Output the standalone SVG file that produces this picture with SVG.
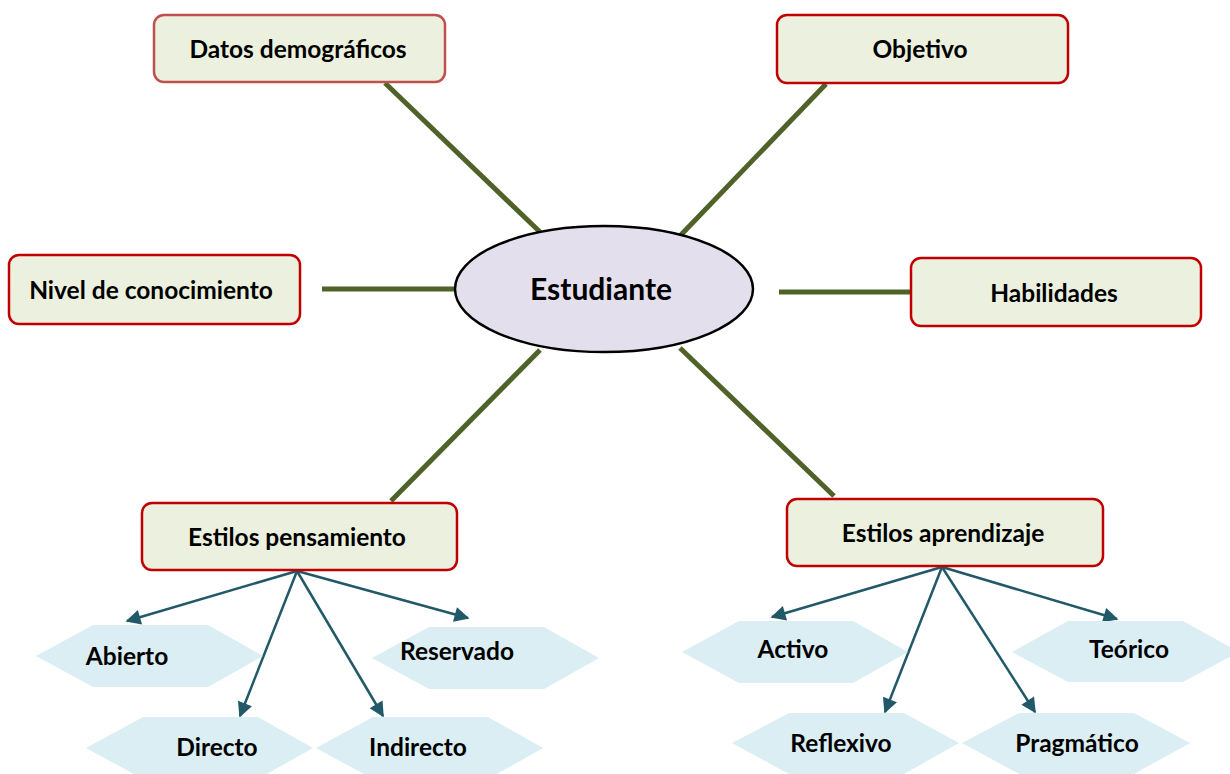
<svg xmlns="http://www.w3.org/2000/svg" width="1230" height="774" viewBox="0 0 1230 774">
<style>
.box{fill:#ebf1de;stroke:#c00000;stroke-width:2.5}
.box2{fill:#ebf1de;stroke:#c0504d;stroke-width:2.5}
.hex{fill:#daeef3}
.t{font-family:Lato,"Open Sans",sans-serif;font-weight:bold;font-size:24.5px;fill:#000;text-anchor:middle;dominant-baseline:central}
.big{font-size:30px}
.g{stroke:#4f6228;stroke-width:5;fill:none}
.a{stroke:#215968;stroke-width:2.5;fill:none;marker-end:url(#ah)}
</style>
<defs>
<marker id="ah" viewBox="0 0 10 10" refX="9" refY="5" markerWidth="7" markerHeight="6" orient="auto" markerUnits="strokeWidth">
<path d="M0,0 L10,5 L0,10 Z" fill="#215968"/>
</marker>
</defs>
<rect width="1230" height="774" fill="#fff"/>
<g id="connectors">
<line class="g" x1="385" y1="83" x2="540" y2="232"/>
<line class="g" x1="826" y1="84" x2="678" y2="238"/>
<line class="g" x1="322" y1="289" x2="455" y2="289"/>
<line class="g" x1="779" y1="292" x2="911" y2="292"/>
<line class="g" x1="540" y1="350" x2="391" y2="501"/>
<line class="g" x1="680" y1="348" x2="834" y2="496"/>
<line class="a" x1="297" y1="571" x2="127" y2="621"/>
<line class="a" x1="297" y1="571" x2="240" y2="716"/>
<line class="a" x1="297" y1="571" x2="383" y2="716"/>
<line class="a" x1="297" y1="571" x2="468" y2="618"/>
<line class="a" x1="942" y1="567" x2="772" y2="617"/>
<line class="a" x1="942" y1="567" x2="885" y2="712"/>
<line class="a" x1="942" y1="567" x2="1035" y2="712"/>
<line class="a" x1="942" y1="567" x2="1117" y2="619"/>
</g>
<g id="estudiante">
<ellipse cx="604" cy="289" rx="149" ry="63" fill="#e4dfec" stroke="#000" stroke-width="2.5"/>
<text class="t big" x="601" y="288">Estudiante</text>
</g>
<g id="datos">
<rect class="box2" x="154" y="15" width="291" height="67" rx="10"/>
<text class="t" x="298" y="48">Datos demográficos</text>
</g>
<g id="objetivo">
<rect class="box" x="777" y="15" width="291" height="68" rx="10"/>
<text class="t" x="920" y="48">Objetivo</text>
</g>
<g id="nivel">
<rect class="box" x="9" y="255" width="291" height="69" rx="10"/>
<text class="t" x="151" y="289">Nivel de conocimiento</text>
</g>
<g id="habilidades">
<rect class="box" x="911" y="258" width="290" height="68" rx="10"/>
<text class="t" x="1054" y="292">Habilidades</text>
</g>
<g id="pensamiento">
<rect class="box" x="142" y="503" width="315" height="67" rx="10"/>
<text class="t" x="297" y="536">Estilos pensamiento</text>
</g>
<g id="aprendizaje">
<rect class="box" x="787" y="499" width="316" height="67" rx="10"/>
<text class="t" x="943" y="532">Estilos aprendizaje</text>
</g>
<g id="abierto">
<polygon class="hex" points="36,656 93,625 208,625 263,656 208,687 93,687"/>
<text class="t" x="127" y="655">Abierto</text>
</g>
<g id="directo">
<polygon class="hex" points="86,748 143,717 258,717 313,748 258,779 143,779"/>
<text class="t" x="217" y="746">Directo</text>
</g>
<g id="indirecto">
<polygon class="hex" points="316,748 373,717 488,717 543,748 488,779 373,779"/>
<text class="t" x="418" y="746">Indirecto</text>
</g>
<g id="reservado">
<polygon class="hex" points="372,658 429,627 544,627 599,658 544,689 429,689"/>
<text class="t" x="457" y="650">Reservado</text>
</g>
<g id="activo">
<polygon class="hex" points="682,652 739,621 853,621 908,652 853,683 739,683"/>
<text class="t" x="793" y="648">Activo</text>
</g>
<g id="reflexivo">
<polygon class="hex" points="732,743 789,713 904,713 959,743 904,774 789,774"/>
<text class="t" x="841" y="742">Reflexivo</text>
</g>
<g id="teorico">
<polygon class="hex" points="1012,652 1068,621 1183,621 1239,652 1183,682 1068,682"/>
<text class="t" x="1129" y="648">Teórico</text>
</g>
<g id="pragmatico">
<polygon class="hex" points="962,743 1019,713 1134,713 1190,743 1134,774 1019,774"/>
<text class="t" x="1077" y="742">Pragmático</text>
</g>
</svg>
